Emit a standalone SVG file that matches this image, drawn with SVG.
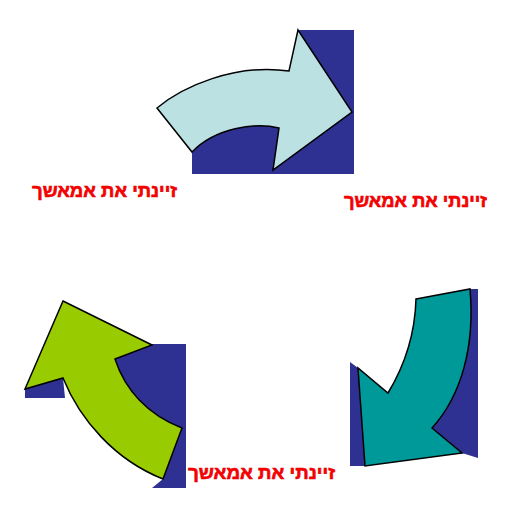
<svg xmlns="http://www.w3.org/2000/svg" width="512" height="512" viewBox="0 0 512 512">
<style>
.shadow{fill:#2f3192}
.arrow{stroke:#000;stroke-width:1.5;stroke-linejoin:miter}
.lbl{font-family:"Liberation Sans","DejaVu Sans",sans-serif;font-weight:bold;font-size:18px;fill:#ff0000;stroke:#e00000;stroke-width:0.6;text-anchor:middle}
</style>
<rect width="512" height="512" fill="#ffffff"/>
<g id="arrow-top">
<path class="shadow" d="M298,30 L354,30 L354,174 L192,174 L192,150 L215,128 L240,118 L285,100 Z"/>
<path class="arrow" fill="#bce1e3" d="M157,108 C182,87 235,63 289,71 L298,30 L352,112 L273,170 L279,128 C255,122 215,128 192,152 Z"/>
</g>
<g id="arrow-right">
<path class="shadow" d="M350,362 L358,368 L365,466 L350,466 Z"/>
<path class="shadow" d="M470,289 L478,289 L478,458 L462,453 L432,428 L450,380 L465,330 Z"/>
<path class="arrow" fill="#00999a" d="M416,299 L470,289 C475,345 462,395 432,428 L462,453 L365,466 L358,368 L388,393 C405,365 415,335 416,299 Z"/>
</g>
<g id="arrow-left">
<path class="shadow" d="M25,389 L25,398 L65,398 L63,378 Z"/>
<path class="shadow" d="M152,344 L186,344 L186,488 L152,488 L163,479 L120,440 L95,380 L115,359 Z"/>
<path class="arrow" fill="#99cc00" d="M63,301 L152,345 L115,359 C125,390 148,415 182,428 L163,479 C115,460 80,420 63,378 L25,389 Z"/>
</g>
<g id="connectors"></g>
<g id="label-1"><text class="lbl" x="104.5" y="197" textLength="145" lengthAdjust="spacingAndGlyphs">זיינתי את אמאשך</text></g>
<g id="label-2"><text class="lbl" x="415.5" y="207" textLength="143" lengthAdjust="spacingAndGlyphs">זיינתי את אמאשך</text></g>
<g id="label-3"><text class="lbl" x="261.5" y="479" textLength="147" lengthAdjust="spacingAndGlyphs">זיינתי את אמאשך</text></g>
</svg>
